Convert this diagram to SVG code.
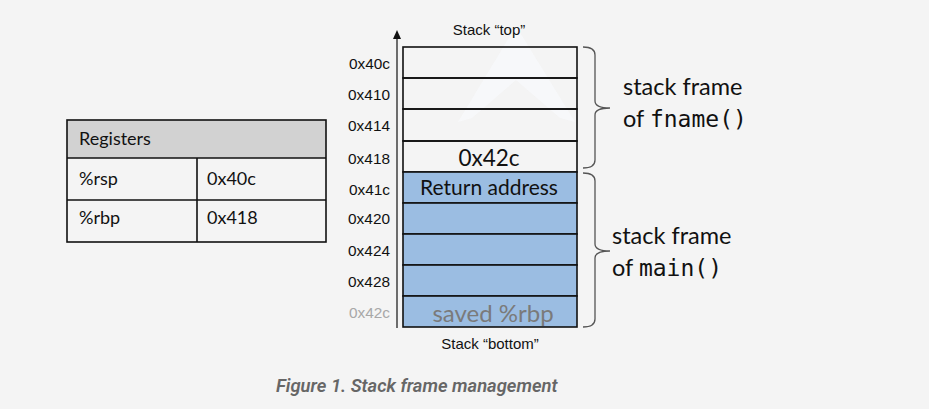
<svg xmlns="http://www.w3.org/2000/svg" width="929" height="409" viewBox="0 0 929 409">
<defs>
<style>
.addr{font-family:"Liberation Sans",Arial,sans-serif;font-size:15.4px;fill:#111;text-anchor:end}
.lbl{font-family:"Liberation Sans",Arial,sans-serif;font-size:15px;fill:#111;text-anchor:middle}
.cal{font-family:Lato,"Open Sans",sans-serif;fill:#111}
.mono{font-family:"DejaVu Sans Mono","Liberation Mono",monospace}
.cell{fill:none;stroke:#111;stroke-width:1.6}
.blue{fill:#9bbde2;stroke:#111;stroke-width:1.6}
.brace{fill:none;stroke:#555;stroke-width:1.3}
.reg{font-family:Lato,"Open Sans",sans-serif;font-size:18px;fill:#111}
</style>
</defs>
<rect width="929" height="409" fill="#f4f4f4"/>
<polygon points="516,26 575,122 560,118 516,80 472,118 458,122" fill="#f8f9fb" opacity="0.8"/>

<g id="registers">
<rect x="67" y="120" width="259" height="38" fill="#d2d2d2"/>
<rect x="67" y="120" width="259" height="122" class="cell"/>
<line x1="67" y1="158" x2="326" y2="158" stroke="#111" stroke-width="1.6"/>
<line x1="67" y1="200" x2="326" y2="200" stroke="#111" stroke-width="1.6"/>
<line x1="197" y1="158" x2="197" y2="242" stroke="#111" stroke-width="1.6"/>
<text class="reg" x="79" y="145">Registers</text>
<text class="reg" x="79" y="185">%rsp</text>
<text class="reg" x="207" y="185">0x40c</text>
<text class="reg" x="79" y="224">%rbp</text>
<text class="reg" x="207" y="224">0x418</text>
</g>

<g id="connectors">
<line x1="397" y1="37" x2="397" y2="328" stroke="#111" stroke-width="1.2"/>
<polygon points="397,30 393,39 401,39" fill="#111"/>
</g>

<g id="stack">
<text class="lbl" x="489" y="35">Stack “top”</text>
<rect x="403" y="47" width="174" height="31" class="cell"/>
<rect x="403" y="78" width="174" height="31" class="cell"/>
<rect x="403" y="109" width="174" height="32" class="cell"/>
<rect x="403" y="141" width="174" height="31" class="cell"/>
<rect x="403" y="172" width="174" height="31" class="blue"/>
<rect x="403" y="203" width="174" height="31" class="blue"/>
<rect x="403" y="234" width="174" height="31" class="blue"/>
<rect x="403" y="265" width="174" height="31" class="blue"/>
<rect x="403" y="296" width="174" height="31" class="blue"/>
<text class="cal" x="489" y="166" font-size="22.5" text-anchor="middle">0x42c</text>
<text class="cal" x="489" y="195" font-size="21" text-anchor="middle">Return address</text>
<text class="cal" x="493" y="322" font-size="24" text-anchor="middle" style="fill:#7a7a7a">saved %rbp</text>
<text class="lbl" x="490" y="349">Stack “bottom”</text>
</g>

<g id="addresses">
<text class="addr" x="390" y="69">0x40c</text>
<text class="addr" x="390" y="100">0x410</text>
<text class="addr" x="390" y="131">0x414</text>
<text class="addr" x="390" y="164">0x418</text>
<text class="addr" x="390" y="195">0x41c</text>
<text class="addr" x="390" y="224">0x420</text>
<text class="addr" x="390" y="256">0x424</text>
<text class="addr" x="390" y="287">0x428</text>
<text class="addr" x="390" y="318" style="fill:#a8a8a8">0x42c</text>
</g>

<g id="frame-fname">
<path class="brace" d="M583,47 Q595,47 595,55 L595,101 Q595,108 610,108 Q595,108 595,115 L595,160 Q595,168 583,168"/>
<text class="cal" x="623" y="95" font-size="23.5">stack frame</text>
<text class="cal" x="623" y="127" font-size="23.5">of <tspan class="mono" font-size="23">fname()</tspan></text>
</g>

<g id="frame-main">
<path class="brace" d="M583,173 Q595,173 595,181 L595,244 Q595,251 610,251 Q595,251 595,258 L595,319 Q595,327 583,327"/>
<text class="cal" x="612" y="244" font-size="23.5">stack frame</text>
<text class="cal" x="612" y="276" font-size="23.5">of <tspan class="mono" font-size="23">main()</tspan></text>
</g>

<text x="276" y="392" font-family="Roboto,sans-serif" font-size="18.4" font-style="italic" font-weight="600" fill="#666">Figure 1. Stack frame management</text>
</svg>
